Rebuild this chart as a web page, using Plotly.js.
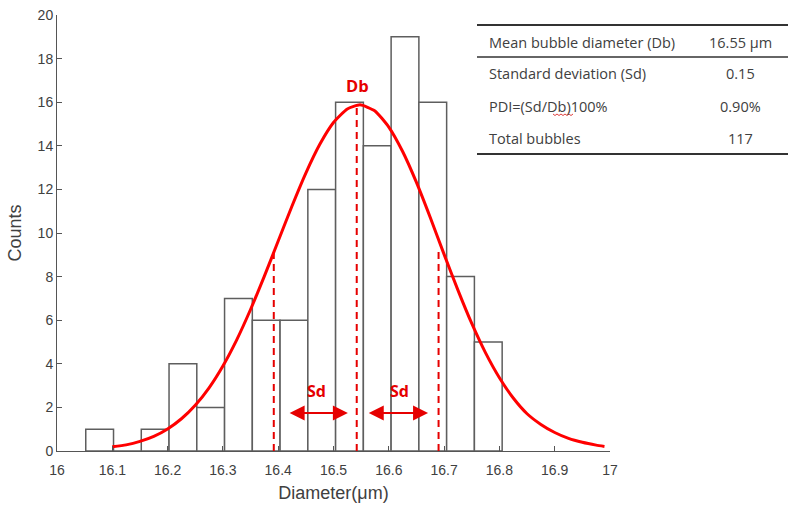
<!DOCTYPE html>
<html><head><meta charset="utf-8">
<script src="https://cdn.plot.ly/plotly-3.0.1.min.js"></script>
<style>html,body{margin:0;padding:0;background:#fff}</style>
</head><body><div id="chart" style="width:797px;height:513px"></div>
<script>
// ---- data ----
const binStart = 16.052;
const binWidth = 0.0502;
const counts = [1, 0, 1, 4, 2, 7, 6, 6, 12, 16, 14, 19, 16, 8, 5];

const fitX = [16.100, 16.125, 16.150, 16.175, 16.200, 16.225, 16.250, 16.275, 16.300, 16.325, 16.350, 16.375, 16.400, 16.425, 16.450, 16.475, 16.500, 16.525, 16.548, 16.575, 16.600, 16.625, 16.650, 16.675, 16.700, 16.725, 16.750, 16.775, 16.800, 16.825, 16.850, 16.875, 16.900, 16.925, 16.950, 16.975, 16.990];
const fitY = [0.19, 0.28, 0.44, 0.67, 1.01, 1.48, 2.10, 2.90, 3.90, 5.10, 6.49, 8.02, 9.63, 11.24, 12.75, 14.06, 15.07, 15.69, 15.88, 15.60, 14.86, 13.74, 12.32, 10.71, 9.02, 7.38, 5.85, 4.50, 3.36, 2.43, 1.71, 1.22, 0.85, 0.58, 0.40, 0.27, 0.21];

const dbLineX = 16.542, dbLineTop = 15.9;
const sdLinesX = [16.392, 16.690], sdLineTop = 9.3;
const sdArrows = [[16.418, 16.526], [16.561, 16.671]];
const sdArrowY = 1.74;
const sdLabelX = [16.470, 16.620], sdLabelY = 2.75;
const dbLabel = {x: 16.544, y: 16.75, text: 'Db'};

const tableLabels = ['Mean bubble diameter (Db)', 'Standard deviation (Sd)', 'PDI=(Sd/Db)100%', 'Total bubbles'];
const tableValues = ['16.55 μm', '0.15', '0.90%', '117'];

const xTickVals = [16, 16.1, 16.2, 16.3, 16.4, 16.5, 16.6, 16.7, 16.8, 16.9, 17];
const xTickText = ['16', '16.1', '16.2', '16.3', '16.4', '16.5', '16.6', '16.7', '16.8', '16.9', '17'];
const yTickVals = [0, 2, 4, 6, 8, 10, 12, 14, 16, 18, 20];

// ---- layout helpers ----
const W = 797, H = 513;
const L = 57, R = 610, T = 15, B = 451;
const px2x = p => (p - L) / (R - L);
const py2y = p => (B - p) / (B - T);

const centers = counts.map((c, i) => binStart + binWidth * (i + 0.5));
const red = '#ff0000';
const dashRed = '#e60000';
const axisGray = '#555555';
const textGray = '#404040';

const traces = [
  {type: 'bar', x: centers, y: counts, width: binWidth,
   marker: {color: '#ffffff', line: {color: '#5e5e5e', width: 1.5}}, hoverinfo: 'skip'},
  {type: 'scatter', mode: 'lines', x: [dbLineX, dbLineX], y: [0, dbLineTop],
   line: {color: dashRed, width: 2, dash: '7px,5px'}},
  {type: 'scatter', mode: 'lines', x: [sdLinesX[0], sdLinesX[0]], y: [0, sdLineTop],
   line: {color: dashRed, width: 2, dash: '7px,5px'}},
  {type: 'scatter', mode: 'lines', x: [sdLinesX[1], sdLinesX[1]], y: [0, sdLineTop],
   line: {color: dashRed, width: 2, dash: '7px,5px'}},
  {type: 'scatter', mode: 'lines', x: fitX, y: fitY,
   line: {color: red, width: 3, shape: 'spline', smoothing: 0.5}}
];

const annotations = [];
const shapes = [];

// Db and Sd labels
annotations.push({x: dbLabel.x, y: dbLabel.y, xref: 'x', yref: 'y', text: '<b>' + dbLabel.text + '</b>',
  showarrow: false, font: {family: 'Open Sans, Noto Sans, sans-serif', size: 16.5, color: dashRed}});
sdLabelX.forEach(x => annotations.push({x: x, y: sdLabelY, xref: 'x', yref: 'y', text: '<b>Sd</b>',
  showarrow: false, font: {family: 'Open Sans, Noto Sans, sans-serif', size: 16, color: dashRed}}));
// double-headed arrows
sdArrows.forEach(a => annotations.push({x: a[1], y: sdArrowY, ax: a[0], ay: sdArrowY,
  xref: 'x', yref: 'y', axref: 'x', ayref: 'y', text: '', showarrow: true,
  arrowside: 'end+start', arrowhead: 2, arrowsize: 1.5, arrowwidth: 2, arrowcolor: dashRed}));

// table
const tx0 = px2x(477), tx1 = px2x(788);
[[25, 2], [57, 1.6], [154, 2]].forEach(([py, w]) => shapes.push({type: 'line', xref: 'paper', yref: 'paper',
  x0: tx0, x1: tx1, y0: py2y(py), y1: py2y(py), line: {color: '#333333', width: w}}));
const rowY = [42, 73, 106, 138];
const tFont = {family: 'Open Sans, Noto Sans, sans-serif', size: 14.5, color: textGray};
tableLabels.forEach((t, i) => annotations.push({xref: 'paper', yref: 'paper', x: px2x(487), y: py2y(rowY[i]),
  xanchor: 'left', yanchor: 'middle', text: t, showarrow: false, font: tFont}));
tableValues.forEach((t, i) => annotations.push({xref: 'paper', yref: 'paper', x: px2x(740), y: py2y(rowY[i]),
  xanchor: 'center', yanchor: 'middle', text: t, showarrow: false, font: tFont}));
// spell-check squiggle under "Db"
let sq = 'M ' + px2x(553) + ' ' + py2y(114);
for (let k = 1; k <= 10; k++) sq += ' L ' + px2x(553 + k * 2) + ' ' + py2y(114 + (k % 2 ? 1.5 : 0));
shapes.push({type: 'path', xref: 'paper', yref: 'paper', path: sq, line: {color: '#e04040', width: 1}});

const tickFont = {family: 'Liberation Sans, Arial, sans-serif', size: 14, color: textGray};
const layout = {
  width: W, height: H,
  margin: {l: L, r: W - R, t: T, b: H - B, pad: 0},
  paper_bgcolor: '#ffffff', plot_bgcolor: '#ffffff',
  showlegend: false, bargap: 0,
  xaxis: {range: [16, 17], tickvals: xTickVals, ticktext: xTickText, ticks: 'inside', ticklen: 5,
    tickcolor: axisGray, showline: true, linecolor: axisGray, linewidth: 1, showgrid: false, zeroline: false,
    tickfont: tickFont, fixedrange: true, ticklabelstandoff: 6,
    title: {text: 'Diameter(μm)', font: {family: 'Liberation Sans, Arial, sans-serif', size: 18, color: textGray}, standoff: 9}},
  yaxis: {range: [0, 20], tickvals: yTickVals, ticks: 'inside', ticklen: 5,
    tickcolor: axisGray, showline: true, linecolor: axisGray, linewidth: 1, showgrid: false, zeroline: false,
    tickfont: tickFont, fixedrange: true,
    title: {text: 'Counts', font: {family: 'Liberation Sans, Arial, sans-serif', size: 18, color: textGray}, standoff: 11}},
  annotations: annotations,
  shapes: shapes
};

Plotly.newPlot('chart', traces, layout, {displayModeBar: false, staticPlot: true});
</script>
</body></html>
